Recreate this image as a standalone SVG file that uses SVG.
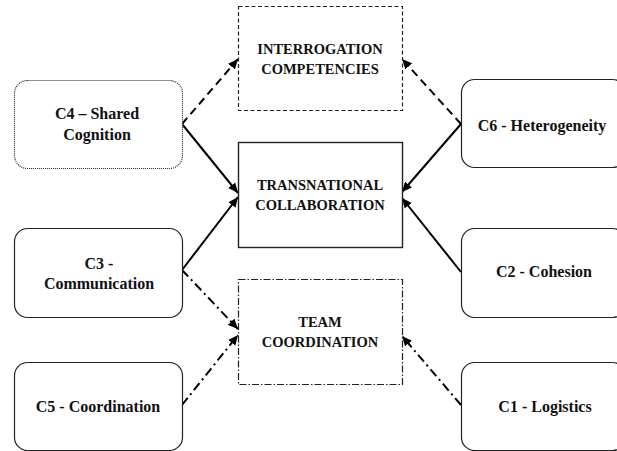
<svg xmlns="http://www.w3.org/2000/svg" width="617" height="451" viewBox="0 0 617 451">
<style>
.bg{fill:#ffffff}
.node{fill:#ffffff;stroke:#222;stroke-width:1.2}
.dot{stroke-dasharray:1 1}
.dash{stroke-dasharray:4 2.5}
.dd{stroke-dasharray:7 2 1.5 2}
text{font-family:'Liberation Serif','DejaVu Serif',serif;font-weight:bold;fill:#111;text-anchor:middle}
.t{font-size:16px}
.ct{font-size:14.5px}
.c{fill:none;stroke:#000;stroke-width:2}
.cd{stroke-dasharray:8 5}
.cdd{stroke-dasharray:9 4 2 4}
</style>
<defs>
<marker id="ah" viewBox="0 0 10 10" refX="10" refY="5" markerWidth="10" markerHeight="10" markerUnits="userSpaceOnUse" orient="auto">
<path d="M0,0.5 L10,5 L0,9.5 Z" fill="#000"/>
</marker>
</defs>
<rect class="bg" x="0" y="0" width="617" height="451"/>
<g id="connectors">
<line class="c cd" x1="182" y1="124" x2="238" y2="59" marker-end="url(#ah)"/>
<line class="c" x1="182" y1="124" x2="238" y2="193" marker-end="url(#ah)"/>
<line class="c" x1="182" y1="270" x2="238" y2="197" marker-end="url(#ah)"/>
<line class="c cdd" x1="182" y1="270" x2="238" y2="329" marker-end="url(#ah)"/>
<line class="c cdd" x1="182" y1="405" x2="238" y2="335" marker-end="url(#ah)"/>
<line class="c cd" x1="461" y1="124" x2="402" y2="59" marker-end="url(#ah)"/>
<line class="c" x1="461" y1="124" x2="402" y2="192" marker-end="url(#ah)"/>
<line class="c" x1="461" y1="272" x2="402" y2="198" marker-end="url(#ah)"/>
<line class="c cdd" x1="461" y1="405" x2="402" y2="336" marker-end="url(#ah)"/>
</g>
<g font-family="Liberation Serif, serif" font-weight="bold">
<g id="interrogation">
<rect class="node dash" x="238.5" y="6.5" width="164" height="104"/>
<text class="ct" x="320" y="54" font-family="Liberation Serif, serif">INTERROGATION</text>
<text class="ct" x="320" y="74" font-family="Liberation Serif, serif">COMPETENCIES</text>
</g>
<g id="transnational">
<rect class="node" x="238.5" y="142.5" width="164" height="105" style="stroke-width:1.4"/>
<text class="ct" x="320" y="190" font-family="Liberation Serif, serif">TRANSNATIONAL</text>
<text class="ct" x="320" y="210" font-family="Liberation Serif, serif">COLLABORATION</text>
</g>
<g id="team">
<rect class="node dd" x="238.5" y="279.5" width="164" height="105"/>
<text class="ct" x="320" y="327" font-family="Liberation Serif, serif">TEAM</text>
<text class="ct" x="320" y="347" font-family="Liberation Serif, serif">COORDINATION</text>
</g>
<g id="c4">
<rect class="node dot" x="14.5" y="80.5" width="168" height="88" rx="13"/>
<text class="t" x="97" y="119" font-family="Liberation Serif, serif">C4 – Shared</text>
<text class="t" x="97" y="140" font-family="Liberation Serif, serif">Cognition</text>
</g>
<g id="c3">
<rect class="node" x="14.5" y="228.5" width="168" height="89" rx="13"/>
<text class="t" x="99" y="269" font-family="Liberation Serif, serif">C3 -</text>
<text class="t" x="99" y="289" font-family="Liberation Serif, serif">Communication</text>
</g>
<g id="c5">
<rect class="node" x="14.5" y="362.5" width="168" height="88" rx="13"/>
<text class="t" x="98" y="412" font-family="Liberation Serif, serif">C5 - Coordination</text>
</g>
<g id="c6">
<rect class="node" x="461.5" y="79.5" width="164" height="88" rx="13"/>
<text class="t" x="542" y="131" font-family="Liberation Serif, serif">C6 - Heterogeneity</text>
</g>
<g id="c2">
<rect class="node" x="461.5" y="228.5" width="164" height="89" rx="13"/>
<text class="t" x="544" y="277" font-family="Liberation Serif, serif">C2 - Cohesion</text>
</g>
<g id="c1">
<rect class="node" x="461.5" y="362.5" width="164" height="88" rx="13"/>
<text class="t" x="545" y="412" font-family="Liberation Serif, serif">C1 - Logistics</text>
</g>
</g>
</svg>
